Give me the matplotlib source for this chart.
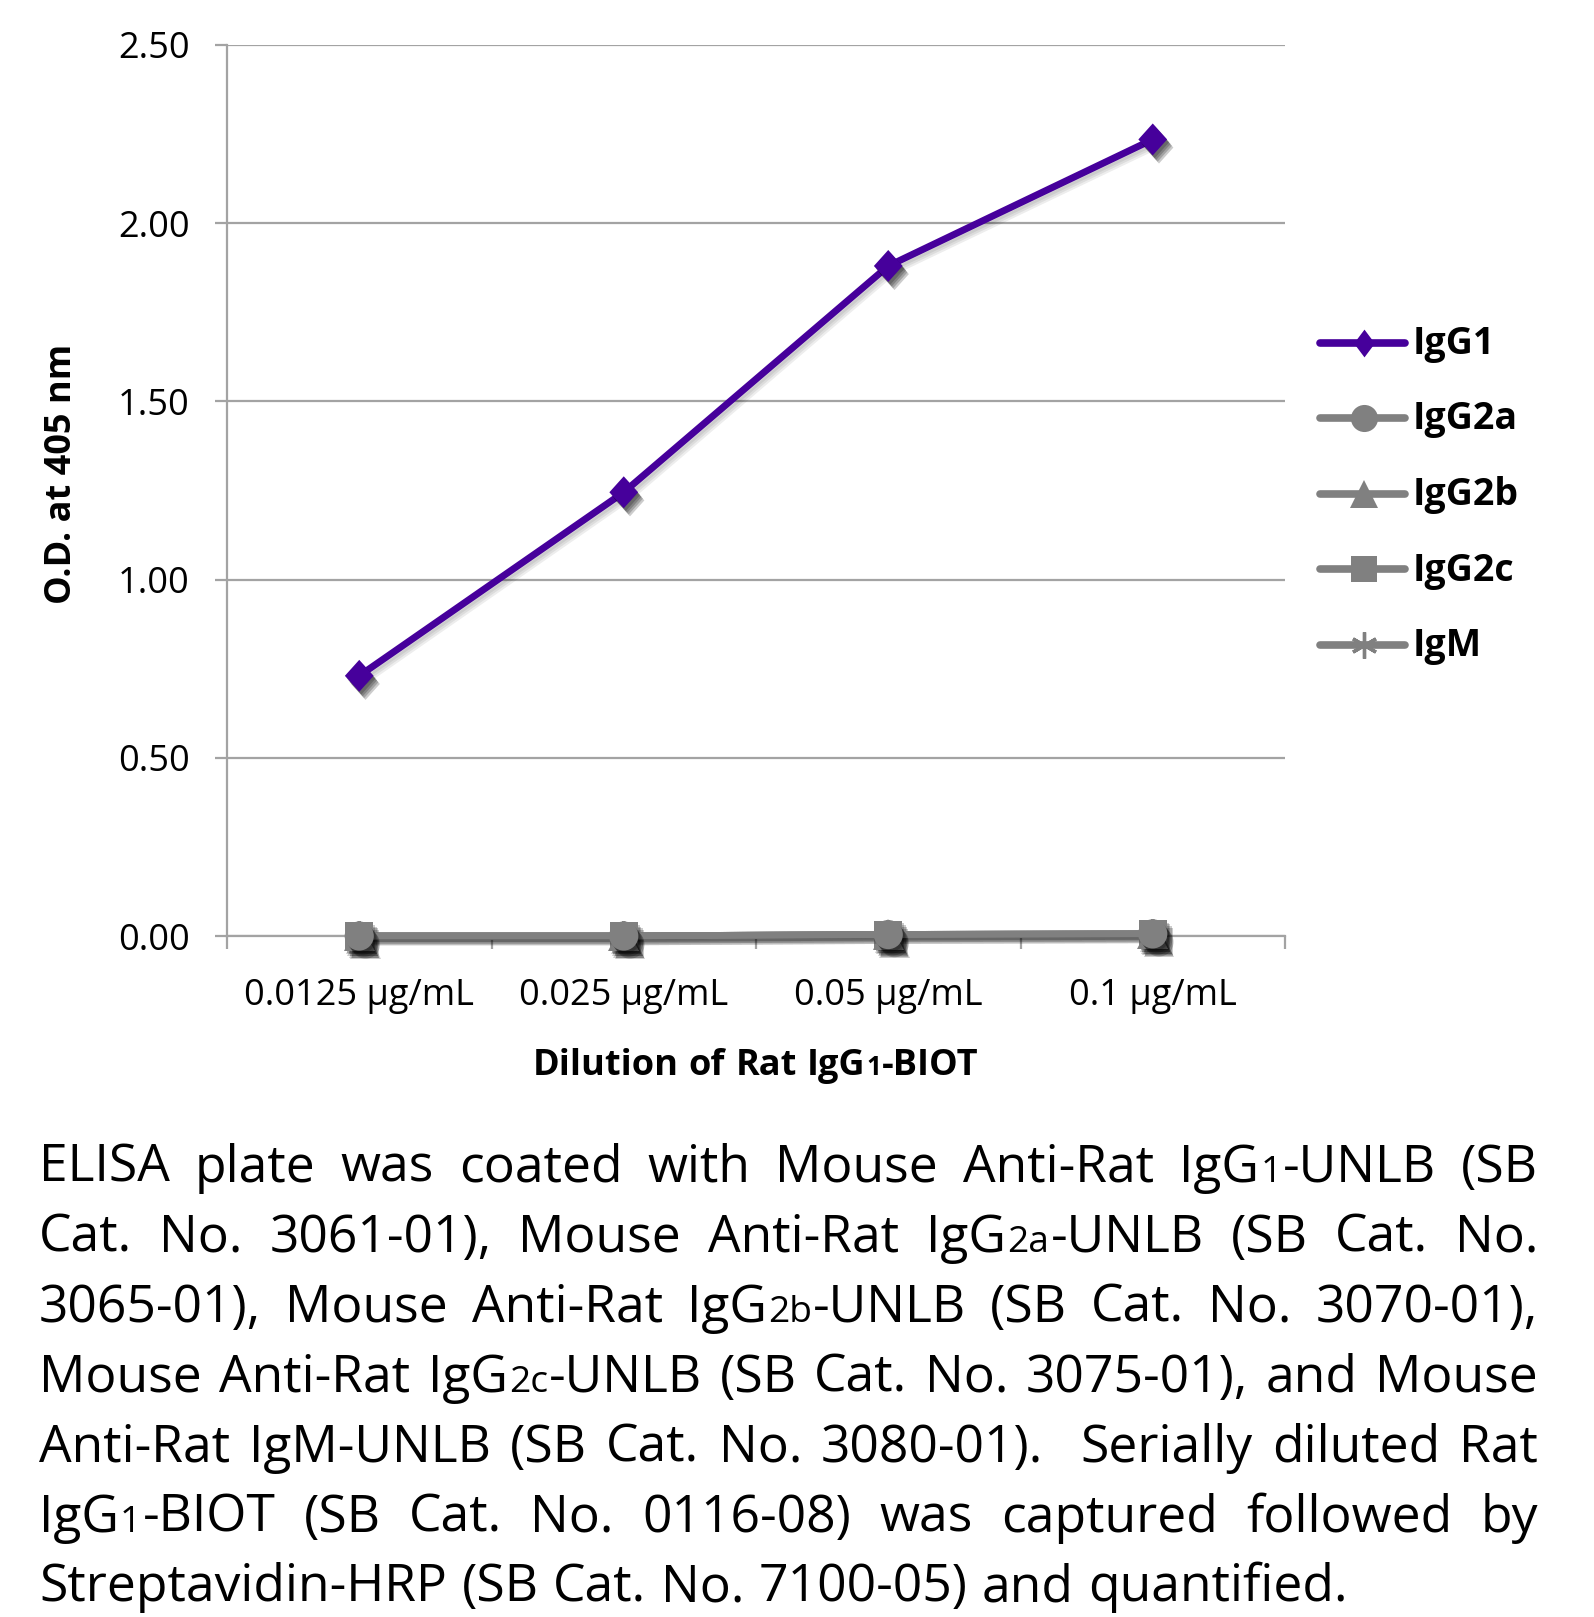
"""ELISA isotype check: Rat IgG1-BIOT dilution series -> out.png"""
import re

import matplotlib

matplotlib.use("Agg")
import matplotlib.pyplot as plt
import matplotlib.patheffects as pe
from matplotlib.font_manager import FontProperties
from matplotlib.lines import Line2D

plt.rcParams["font.family"] = ["Open Sans", "DejaVu Sans"]

W, H, DPI = 1594, 1617, 100

DILUTIONS = ["0.0125 µg/mL", "0.025 µg/mL", "0.05 µg/mL", "0.1 µg/mL"]
IGG1 = [0.73, 1.245, 1.88, 2.235]
IGG2A = [0.0, 0.0, 0.004, 0.006]
IGG2B = [0.0, 0.0, 0.004, 0.006]
IGG2C = [0.0, 0.0, 0.004, 0.006]
IGM = [0.0, 0.0, 0.004, 0.006]
SERIES_NAMES = ["IgG1", "IgG2a", "IgG2b", "IgG2c", "IgM"]
Y_TICKS = [0.0, 0.5, 1.0, 1.5, 2.0, 2.5]

PURPLE = "#46009B"
GREY = "#808080"
GRID = "#A3A3A3"

DIAMOND = [(0, 1), (0.9, 0), (0, -1), (-0.9, 0), (0, 1)]
STYLE = {
    "IgG1": dict(color=PURPLE, marker=DIAMOND, ms=23, mew=0),
    "IgG2a": dict(color=GREY, marker="o", ms=21, mew=0),
    "IgG2b": dict(color=GREY, marker="^", ms=22, mew=0),
    "IgG2c": dict(color=GREY, marker="s", ms=20, mew=0),
    "IgM": dict(color=GREY, marker=(6, 2, 0), ms=21, mew=2.4),
}
LEGEND_MS = {"IgG1": 20, "IgG2a": 19.5, "IgG2b": 20, "IgG2c": 18.5, "IgM": 19}

# {..} marks the small figures used in the isotype names
CAPTION = [
    "ELISA plate was coated with Mouse Anti-Rat IgG{1}-UNLB (SB",
    "Cat. No. 3061-01), Mouse Anti-Rat IgG{2a}-UNLB (SB Cat. No.",
    "3065-01), Mouse Anti-Rat IgG{2b}-UNLB (SB Cat. No. 3070-01),",
    "Mouse Anti-Rat IgG{2c}-UNLB (SB Cat. No. 3075-01), and Mouse",
    "Anti-Rat IgM-UNLB (SB Cat. No. 3080-01).  Serially diluted Rat",
    "IgG{1}-BIOT (SB Cat. No. 0116-08) was captured followed by",
    "Streptavidin-HRP (SB Cat. No. 7100-05) and quantified.",
]
XLABEL = "Dilution of Rat IgG{1}-BIOT"
YLABEL = "O.D. at 405 nm"


def fx(px):
    return px / W


def fy(py):
    return 1 - py / H


def _segs(word):
    out = []
    for part in re.split(r"(\{[^}]*\})", word):
        if part:
            out.append((part[1:-1], True) if part.startswith("{") else (part, False))
    return out


def _seg_width(renderer, text, size, weight):
    prop = FontProperties(family=["Open Sans", "DejaVu Sans"], size=size, weight=weight)
    w, _, _ = renderer.get_text_width_height_descent(text, prop, ismath=False)
    return w


def _word_width(renderer, word, size, weight):
    tot = 0
    for txt, small in _segs(word):
        tot += _seg_width(renderer, txt, size * (0.72 if small else 1), weight) + 0.03 * size
    return tot


def _draw_word(fig, renderer, word, x, y, size, weight):
    for txt, small in _segs(word):
        s = size * (0.72 if small else 1)
        fig.text(fx(x), fy(y), txt, fontsize=s, fontweight=weight,
                 ha="left", va="baseline")
        x += _seg_width(renderer, txt, s, weight) + 0.03 * size
    return x


def draw_caption(fig, renderer, left=39, right=1539, top=1182, step=69.9):
    avail = right - left
    ref = 40
    pt2px = DPI / 72

    def natural(line, size, gap_em):
        words = line.split(" ")
        return (sum(_word_width(renderer, w, size, "normal") for w in words)
                + (len(words) - 1) * gap_em * size * pt2px)

    size = ref * 1309 / natural(CAPTION[-1], ref, 0.26)
    for line in CAPTION[:-1]:
        size = min(size, ref * avail / natural(line, ref, 0.2))

    for i, line in enumerate(CAPTION):
        words = line.split(" ")
        widths = [_word_width(renderer, w, size, "normal") for w in words]
        if i == len(CAPTION) - 1:
            gap = 0.26 * size * pt2px
        else:
            gap = (avail - sum(widths)) / (len(words) - 1)
        x = left
        y = top + i * step
        for w, ww in zip(words, widths):
            if w:
                _draw_word(fig, renderer, w, x, y, size, "normal")
            x += ww + gap


def draw_centered(fig, renderer, text, cx, y, size, weight):
    words = text.split(" ")
    sp = 0.26 * size * DPI / 72
    widths = [_word_width(renderer, w, size, weight) for w in words]
    x = cx - (sum(widths) + sp * (len(words) - 1)) / 2
    for w, ww in zip(words, widths):
        _draw_word(fig, renderer, w, x, y, size, weight)
        x += ww + sp


def draw_legend(fig, names, x0=1320, x1=1405, y0=343, step=75.5):
    legend_diamond = [(0, 1), (0.75, 0), (0, -1), (-0.75, 0), (0, 1)]
    for i, name in enumerate(names):
        st = STYLE[name]
        mk = legend_diamond if name == "IgG1" else st["marker"]
        y = y0 + i * step
        fig.add_artist(Line2D([fx(x0), fx(x1)], [fy(y), fy(y)], transform=fig.transFigure,
                              color=st["color"], lw=5.5, solid_capstyle="round"))
        fig.add_artist(Line2D([fx((x0 + x1) / 2 + 1)], [fy(y)], transform=fig.transFigure,
                              color=st["color"], marker=mk, ms=LEGEND_MS[name],
                              mew=st["mew"], linestyle="none"))
        fig.text(fx(1413), fy(y + 11), name, fontsize=27, fontweight="bold",
                 ha="left", va="baseline")


def main():
    fig = plt.figure(figsize=(W / DPI, H / DPI), dpi=DPI)
    ax = fig.add_axes([fx(227), fy(936), fx(1285) - fx(227), fy(45) - fy(936)])

    x = list(range(len(DILUTIONS)))
    data = {"IgG1": IGG1, "IgG2a": IGG2A, "IgG2b": IGG2B, "IgG2c": IGG2C, "IgM": IGM}
    # soft drop shadows, faked with a few stacked offsets
    line_shadow = [pe.SimpleLineShadow(offset=(o, -1.2 * o), alpha=0.07)
                   for o in (1.5, 2.5, 3.5)] + [pe.Normal()]
    mark_shadow = [pe.SimplePatchShadow(offset=(o, -1.3 * o), alpha=0.2, shadow_rgbFace="k")
                   for o in (1.5, 2.5, 3.5, 4.5)] + [pe.Normal()]
    for z, name in enumerate(reversed(SERIES_NAMES)):
        st = STYLE[name]
        ax.plot(x, data[name], color=st["color"], lw=5, solid_joinstyle="round",
                solid_capstyle="butt", zorder=3 + z, clip_on=False, path_effects=line_shadow)
        ax.plot(x, data[name], color=st["color"], marker=st["marker"], ms=st["ms"],
                mew=st["mew"], mec=st["color"], linestyle="none", zorder=3.5 + z,
                clip_on=False, path_effects=mark_shadow)

    ax.set_xlim(-0.5, len(DILUTIONS) - 0.5)
    ax.set_ylim(0, 2.5)
    ax.set_yticks(Y_TICKS)
    ax.set_yticklabels([f"{v:.2f}" for v in Y_TICKS], fontsize=26)
    ax.yaxis.grid(True, color=GRID, lw=1.6)
    ax.set_axisbelow(True)
    ax.tick_params(axis="y", length=9, width=1.6, color=GRID, pad=18)

    ax.set_xticks([i - 0.5 for i in range(len(DILUTIONS) + 1)])
    ax.set_xticklabels([])
    ax.set_xticks(x, minor=True)
    ax.set_xticklabels(DILUTIONS, minor=True, fontsize=26)
    ax.tick_params(axis="x", which="major", length=9, width=1.6, color=GRID)
    ax.tick_params(axis="x", which="minor", length=0, pad=30)

    for s in ("top", "right"):
        ax.spines[s].set_visible(False)
    for s in ("left", "bottom"):
        ax.spines[s].set_color(GRID)
        ax.spines[s].set_linewidth(1.6)

    fig.text(fx(62), fy(474), YLABEL, rotation=90, fontsize=26, fontweight="bold",
             ha="center", va="center")

    renderer = fig.canvas.get_renderer()
    draw_centered(fig, renderer, XLABEL, 756, 1075, 26, "bold")
    draw_legend(fig, SERIES_NAMES)
    draw_caption(fig, renderer)

    fig.savefig("out.png", dpi=DPI)


if __name__ == "__main__":
    main()
